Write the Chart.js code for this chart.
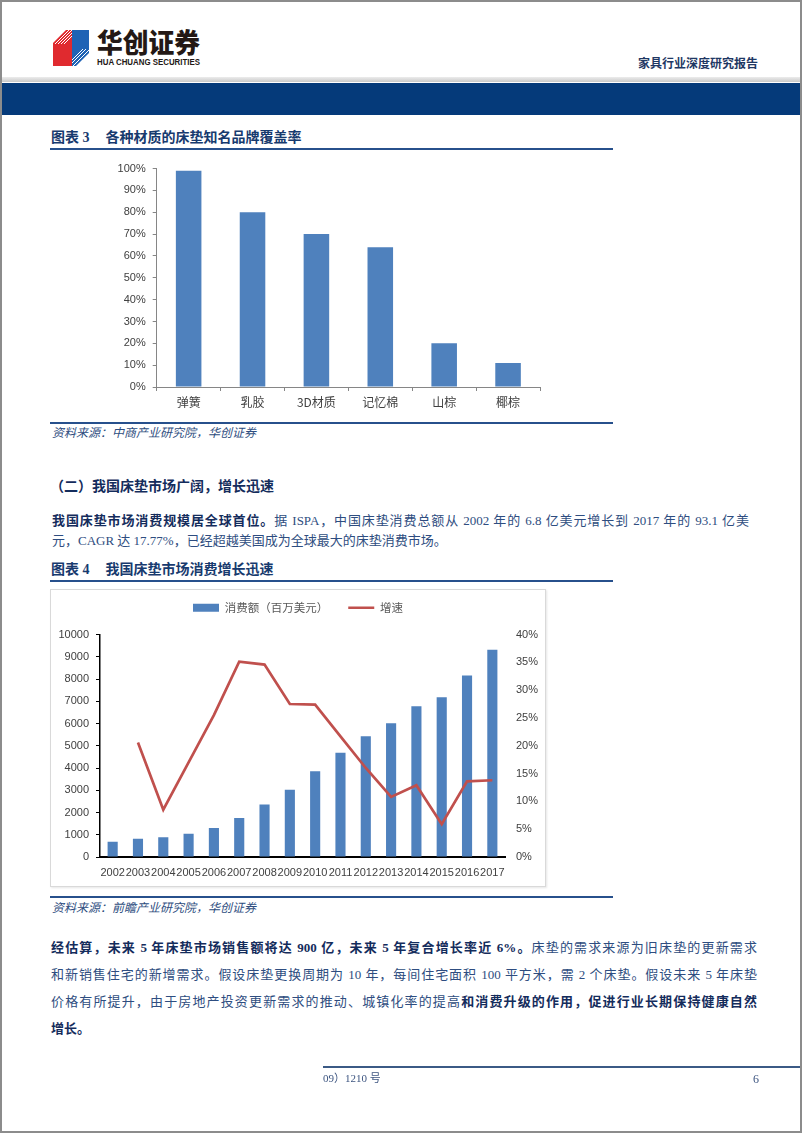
<!DOCTYPE html>
<html>
<head>
<meta charset="utf-8">
<script src="https://cdn.jsdelivr.net/npm/chart.js@4.4.1/dist/chart.umd.min.js"></script>
<style>
  html, body { margin: 0; padding: 0; background: #fff; }
  #page { position: relative; width: 802px; height: 1133px; overflow: hidden; background: #fff;
          font-family: "Liberation Serif", "Noto Sans CJK SC", serif; }
  .abs { position: absolute; white-space: nowrap; }
  .rule { position: absolute; height: 2px; background: #27508c; }
  .title { font-size: 14px; font-weight: bold; color: #173a6e; line-height: 14px; }
  .src { font-size: 12px; font-style: italic; color: #2e4d80; line-height: 12px; }
  .para { position: absolute; font-size: 13px; line-height: 13px; color: #2e4d80;
          text-align: justify; text-align-last: justify; }
  .para b { color: #142c5c; }
  .chartbox { position: absolute; border: 1px solid #d9d9d9; box-sizing: border-box;
              box-shadow: 1px 1px 2px rgba(0,0,0,0.10); background: #fff; }
  canvas { position: absolute; }
</style>
</head>
<body>
<div id="page">
  <!-- header -->
  <svg class="abs" style="left:0;top:0" width="230" height="75">
    <polygon points="53,43 66,30 72,30 72,66 53,66" fill="#e02a2f"/>
    <polygon points="72,30 89,30 89,53 76,66 72,66" fill="#1f63b5"/>
    <g stroke="#fff" stroke-width="1">
      <line x1="55" y1="44" x2="69" y2="30"/>
      <line x1="58" y1="44" x2="72" y2="30"/>
      <line x1="61" y1="44" x2="72" y2="33"/>
      <line x1="64" y1="44" x2="72" y2="36"/>
      <line x1="72" y1="60" x2="83" y2="49"/>
      <line x1="72" y1="63" x2="86" y2="49"/>
      <line x1="73" y1="66" x2="89" y2="50"/>
    </g>
    <text x="97" y="53" font-size="27" font-weight="900" textLength="103" lengthAdjust="spacingAndGlyphs"
          font-family="Noto Sans CJK SC" fill="#231815">华创证券</text>
    <text x="97" y="65" font-size="8.5" font-weight="bold" textLength="103" lengthAdjust="spacingAndGlyphs"
          font-family="Liberation Sans" fill="#231815">HUA CHUANG SECURITIES</text>
  </svg>
  <div class="abs" style="left:638px;top:58px;font-size:12px;line-height:12px;font-weight:bold;color:#1f3864;">家具行业深度研究报告</div>
  <div class="abs" style="left:0;top:77px;width:802px;height:5px;background:linear-gradient(#ececec,#c9c9c9);"></div>
  <div class="abs" style="left:0;top:83px;width:802px;height:32px;background:#053a7a;"></div>

  <!-- figure 3 -->
  <div class="abs title" style="left:51px;top:131px;">图表 3<span style="display:inline-block;width:16px"></span>各种材质的床垫知名品牌覆盖率</div>
  <div class="rule" style="left:50px;top:148px;width:563px;"></div>
  <canvas id="materialChart" width="500" height="262" style="left:50px;top:155px;"></canvas>
  <div class="rule" style="left:50px;top:422px;width:563px;"></div>
  <div class="abs src" style="left:52px;top:427px;">资料来源：中商产业研究院，华创证券</div>

  <!-- section text -->
  <div class="abs title" style="left:50px;top:480px;color:#142c5c;">（二）我国床垫市场广阔，增长迅速</div>
  <div class="para" style="left:52px;top:514px;width:697px;"><b>我国床垫市场消费规模居全球首位。</b>据 ISPA，中国床垫消费总额从 2002 年的 6.8 亿美元增长到 2017 年的 93.1 亿美</div>
  <div class="para" style="left:52px;top:534px;text-align-last:left;">元，CAGR 达 17.77%，已经超越美国成为全球最大的床垫消费市场。</div>

  <!-- figure 4 -->
  <div class="abs title" style="left:51px;top:563px;">图表 4<span style="display:inline-block;width:16px"></span>我国床垫市场消费增长迅速</div>
  <div class="rule" style="left:50px;top:580px;width:563px;"></div>
  <div class="chartbox" style="left:50px;top:589px;width:496px;height:298px;"></div>
  <canvas id="marketChart" width="496" height="305" style="left:50px;top:582px;"></canvas>
  <div class="rule" style="left:50px;top:896px;width:563px;"></div>
  <div class="abs src" style="left:52px;top:902px;">资料来源：前瞻产业研究院，华创证券</div>

  <div class="para" style="left:51px;top:941px;width:706px;"><b>经估算，未来 5 年床垫市场销售额将达 900 亿，未来 5 年复合增长率近 6%。</b>床垫的需求来源为旧床垫的更新需求</div>
  <div class="para" style="left:51px;top:968px;width:706px;">和新销售住宅的新增需求。假设床垫更换周期为 10 年，每间住宅面积 100 平方米，需 2 个床垫。假设未来 5 年床垫</div>
  <div class="para" style="left:51px;top:995px;width:706px;">价格有所提升，由于房地产投资更新需求的推动、城镇化率的提高<b>和消费升级的作用，促进行业长期保持健康自然</b></div>
  <div class="para" style="left:51px;top:1022px;text-align-last:left;"><b>增长。</b></div>

  <!-- footer -->
  <div class="abs" style="left:323px;top:1066px;width:479px;height:2px;background:#3b5a85;"></div>
  <div class="abs" style="left:323px;top:1073px;font-size:11px;line-height:11px;color:#3d5580;">09）1210 号</div>
  <div class="abs" style="left:753px;top:1073px;font-size:12px;line-height:12px;color:#3d5580;">6</div>

  <div class="abs" style="left:0;top:0;width:802px;height:1133px;box-sizing:border-box;border:2px solid #8c8c8c;"></div>
</div>

<script>
// 图表3 数据
var materials = ['弹簧', '乳胶', '3D材质', '记忆棉', '山棕', '椰棕'];
var coverage = [99, 80, 70, 64, 20, 11];

// 图表4 数据
var years = ['2002', '2003', '2004', '2005', '2006', '2007', '2008', '2009',
             '2010', '2011', '2012', '2013', '2014', '2015', '2016', '2017'];
var consumption = [680, 820, 890, 1040, 1300, 1750, 2360, 3020,
                   3850, 4680, 5430, 6010, 6780, 7180, 8160, 9310];
var growth = [null, 20.6, 8.5, 17.0, 25.5, 35.1, 34.6, 27.5,
              27.4, 21.7, 16.0, 10.8, 12.9, 5.9, 13.6, 13.8];

var barColor = '#4f81bd';
var lineColor = '#c0504d';
var tickColor = '#404040';
var numFont = { family: 'Liberation Sans', size: 11 };

Chart.defaults.devicePixelRatio = 1;
Chart.defaults.animation = false;

// 图表3
new Chart(document.getElementById('materialChart'), {
  type: 'bar',
  data: {
    labels: materials,
    datasets: [{
      label: '覆盖率',
      data: coverage,
      backgroundColor: barColor,
      categoryPercentage: 1,
      barPercentage: 0.4
    }]
  },
  options: {
    responsive: false,
    layout: { padding: { top: 11.7, right: 10 } },
    plugins: { legend: { display: false }, tooltip: { enabled: false } },
    scales: {
      x: {
        grid: { drawOnChartArea: false, tickLength: 4, color: '#868686' },
        border: { color: '#868686' },
        ticks: { font: { family: 'Noto Sans CJK SC', size: 12 }, color: tickColor, padding: 4 },
        afterFit: function(s) { s.height = 30; }
      },
      y: {
        min: 0, max: 100,
        grid: { drawOnChartArea: false, tickLength: 4, color: '#868686' },
        border: { color: '#868686' },
        ticks: { stepSize: 10, font: numFont, color: tickColor, padding: 7,
                 callback: function(v) { return v + '%'; } },
        afterFit: function(s) { s.width = 106.7; }
      }
    }
  }
});

// legend 下方留白
var legendGap = {
  id: 'legendGap',
  beforeInit: function(chart) {
    var fit = chart.legend.fit;
    chart.legend.fit = function() {
      fit.call(this);
      this.height += 11;
    };
  }
};

// 图表4
new Chart(document.getElementById('marketChart'), {
  type: 'bar',
  data: {
    labels: years,
    datasets: [
      {
        type: 'bar',
        label: '消费额（百万美元）',
        data: consumption,
        backgroundColor: barColor,
        borderWidth: 0,
        pointStyle: 'rect',
        categoryPercentage: 1,
        barPercentage: 0.4,
        yAxisID: 'y',
        order: 1
      },
      {
        type: 'line',
        label: '增速',
        data: growth,
        borderColor: lineColor,
        backgroundColor: lineColor,
        borderWidth: 2.7,
        pointRadius: 0,
        pointStyle: 'line',
        tension: 0,
        yAxisID: 'y1',
        order: 0
      }
    ]
  },
  options: {
    responsive: false,
    layout: { padding: 0 },
    plugins: {
      tooltip: { enabled: false },
      legend: {
        position: 'top',
        labels: {
          usePointStyle: true,
          pointStyleWidth: 26,
          boxHeight: 8,
          padding: 20,
          color: '#595959',
          font: { family: 'Noto Sans CJK SC', size: 11.5 },
          sort: function(a, b) { return a.datasetIndex - b.datasetIndex; }
        }
      }
    },
    scales: {
      x: {
        grid: { display: false, drawTicks: false },
        border: { color: '#000', width: 2 },
        ticks: { font: numFont, color: tickColor, padding: 9, autoSkip: false, maxRotation: 0 },
        afterFit: function(s) { s.height = 30; }
      },
      y: {
        position: 'left',
        min: 0, max: 10000,
        grid: { drawOnChartArea: false, tickLength: 4, color: '#000' },
        border: { color: '#000', width: 1.5 },
        ticks: { stepSize: 1000, font: numFont, color: tickColor, padding: 7,
                 callback: function(v) { return String(v); } },
        afterFit: function(s) { s.width = 50; }
      },
      y1: {
        position: 'right',
        min: 0, max: 40,
        grid: { display: false, drawTicks: false },
        border: { display: false },
        ticks: { stepSize: 5, font: numFont, color: tickColor, padding: 11,
                 callback: function(v) { return v + '%'; } },
        afterFit: function(s) { s.width = 41; }
      }
    }
  },
  plugins: [legendGap]
});
</script>
</body>
</html>
